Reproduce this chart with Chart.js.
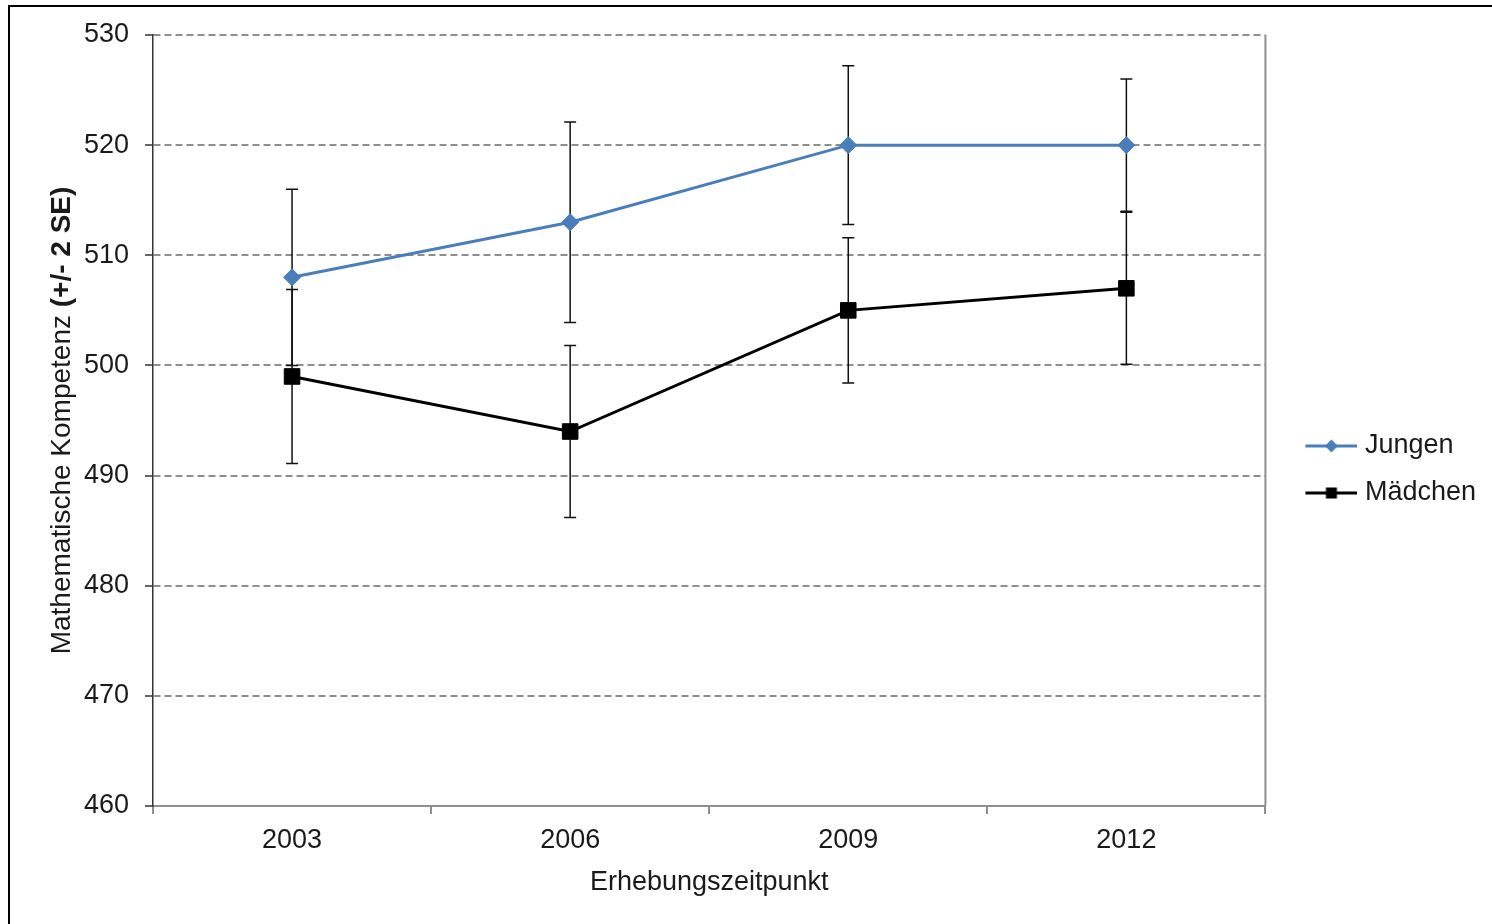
<!DOCTYPE html>
<html>
<head>
<meta charset="utf-8">
<script src="https://cdn.jsdelivr.net/npm/chart.js@4.4.1/dist/chart.umd.min.js"></script>
<style>
  html, body { margin: 0; padding: 0; background: #fff; overflow: hidden; width: 1492px; height: 924px; }
  #frame { position: absolute; left: 8px; top: 5px; width: 1600px; height: 1000px; border: 2px solid #000; box-sizing: border-box; }
  #wrap { position: absolute; left: 0; top: 0; width: 1492px; height: 924px; }
</style>
</head>
<body>
<div id="frame"></div>
<div id="wrap"><canvas id="chart" width="1492" height="924"></canvas></div>
<script>
// Survey years and mean maths scores with ±2 SE intervals
const years = ['2003', '2006', '2009', '2012'];
const jungen = [508, 513, 520, 520];
const jungenErr = [8.0, 9.1, 7.2, 6.0];
const maedchen = [499, 494, 505, 507];
const maedchenErr = [7.9, 7.8, 6.6, 6.9];
const yMin = 460, yMax = 530, yStep = 10;

const FONT = "'Liberation Sans', Arial, sans-serif";
const TEXT = '#1a1a1a';
const BLUE = '#4a7ebb';
const GRID = '#8e8e8e';

// Small line+marker glyphs for the legend
function legendGlyph(color, shape) {
  const c = document.createElement('canvas');
  c.width = 78; c.height = 22;
  const g = c.getContext('2d');
  g.strokeStyle = color; g.lineWidth = 3;
  g.beginPath(); g.moveTo(26, 11); g.lineTo(78, 11); g.stroke();
  g.fillStyle = color;
  const cx = 52, cy = 11;
  if (shape === 'diamond') {
    g.beginPath();
    g.moveTo(cx - 6.5, cy); g.lineTo(cx, cy - 6.5); g.lineTo(cx + 6.5, cy); g.lineTo(cx, cy + 6.5);
    g.closePath(); g.fill();
  } else {
    g.fillRect(cx - 5.5, cy - 5.5, 11, 11);
  }
  return c;
}
const glyphs = [legendGlyph(BLUE, 'diamond'), legendGlyph('#000', 'square')];

// Error bars (±2 SE) drawn from the y scale
const errorBars = {
  id: 'errorBars',
  beforeDatasetsDraw(chart) {
    const ctx = chart.ctx, y = chart.scales.y;
    const errs = [jungenErr, maedchenErr];
    ctx.save();
    ctx.strokeStyle = '#111';
    ctx.lineWidth = 1.5;
    chart.data.datasets.forEach((ds, i) => {
      const meta = chart.getDatasetMeta(i);
      meta.data.forEach((pt, j) => {
        const v = ds.data[j], e = errs[i][j];
        const top = y.getPixelForValue(v + e), bot = y.getPixelForValue(v - e);
        ctx.beginPath();
        ctx.moveTo(pt.x, top); ctx.lineTo(pt.x, bot);
        ctx.moveTo(pt.x - 6, top); ctx.lineTo(pt.x + 6, top);
        ctx.moveTo(pt.x - 6, bot); ctx.lineTo(pt.x + 6, bot);
        ctx.stroke();
      });
    });
    ctx.restore();
  }
};

// Right edge of the plot area and the y-axis title with its bold suffix
const frameAndTitle = {
  id: 'frameAndTitle',
  afterDraw(chart) {
    const ctx = chart.ctx, a = chart.chartArea;
    ctx.save();
    ctx.strokeStyle = GRID; ctx.lineWidth = 2;
    ctx.beginPath(); ctx.moveTo(a.right, a.top); ctx.lineTo(a.right, a.bottom); ctx.stroke();

    const normal = 'Mathematische Kompetenz ';
    const bold = '(+/- 2 SE)';
    const fN = '28px ' + FONT, fB = 'bold 28px ' + FONT;
    ctx.font = fN; const wN = ctx.measureText(normal).width;
    ctx.font = fB; const wB = ctx.measureText(bold).width;
    ctx.translate(62, (a.top + a.bottom) / 2);
    ctx.rotate(-Math.PI / 2);
    ctx.fillStyle = TEXT;
    ctx.textBaseline = 'middle';
    ctx.textAlign = 'left';
    const start = -(wN + wB) / 2;
    ctx.font = fN; ctx.fillText(normal, start, 0);
    ctx.font = fB; ctx.fillText(bold, start + wN, 0);
    ctx.restore();
  }
};

new Chart(document.getElementById('chart'), {
  type: 'line',
  data: {
    labels: years,
    datasets: [
      {
        label: 'Jungen', data: jungen,
        borderColor: BLUE, backgroundColor: BLUE, borderWidth: 3,
        pointStyle: 'rectRot', pointRadius: 8.5, pointBorderWidth: 1,
        pointBorderColor: BLUE, pointBackgroundColor: BLUE, tension: 0
      },
      {
        label: 'Mädchen', data: maedchen,
        borderColor: '#000', backgroundColor: '#000', borderWidth: 3,
        pointStyle: 'rect', pointRadius: 11, pointBorderWidth: 1,
        pointBorderColor: '#000', pointBackgroundColor: '#000', tension: 0
      }
    ]
  },
  options: {
    responsive: false,
    animation: false,
    events: [],
    layout: { padding: { top: 35, right: 6, bottom: 20, left: 0 } },
    scales: {
      x: {
        type: 'category',
        offset: true,
        grid: { display: true, drawOnChartArea: false, offset: true, tickLength: 8, color: GRID, lineWidth: 2 },
        border: { display: true, color: GRID, width: 2 },
        ticks: { color: TEXT, font: { family: FONT, size: 27 }, padding: 10, maxRotation: 0 },
        title: { display: true, text: 'Erhebungszeitpunkt', color: TEXT, font: { family: FONT, size: 27 }, padding: { top: 4, bottom: 5 } },
        afterFit(scale) { scale.height = 98; }
      },
      y: {
        min: yMin, max: yMax,
        grid: {
          color: ctx => (ctx.tick && ctx.tick.value === yMin ? 'rgba(0,0,0,0)' : GRID),
          lineWidth: 2, tickLength: 8, tickColor: '#333', tickWidth: 1.5
        },
        border: { display: true, color: '#333', width: 1.5, dash: [7, 4] },
        ticks: { stepSize: yStep, color: TEXT, font: { family: FONT, size: 27 }, padding: 16 },
        afterFit(scale) { scale.width = 153; }
      }
    },
    plugins: {
      legend: {
        position: 'right',
        align: 'center',
        labels: {
          usePointStyle: true,
          pointStyleWidth: 66,
          padding: 20,
          color: TEXT,
          font: { family: FONT, size: 27 },
          generateLabels(chart) {
            const items = Chart.defaults.plugins.legend.labels.generateLabels(chart);
            items.forEach((it, i) => { it.pointStyle = glyphs[i]; });
            return items;
          }
        }
      },
      tooltip: { enabled: false }
    }
  },
  plugins: [errorBars, frameAndTitle]
});
</script>
</body>
</html>
